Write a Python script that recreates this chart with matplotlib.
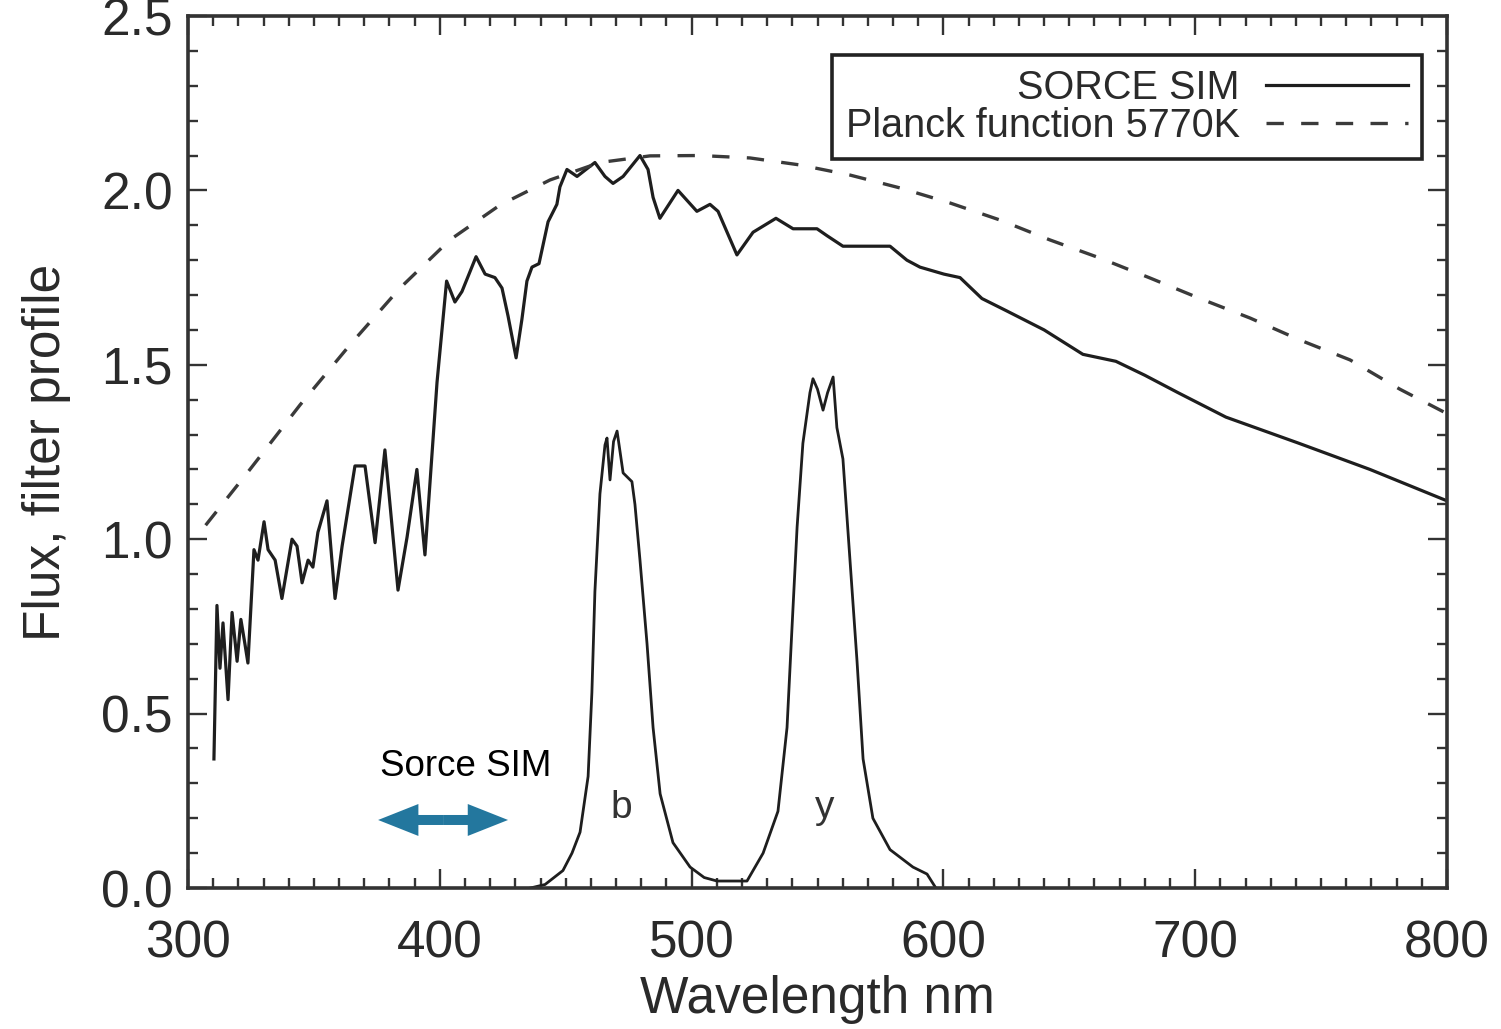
import matplotlib
matplotlib.use('Agg')
import matplotlib.pyplot as plt
from matplotlib.ticker import MultipleLocator

plt.rcParams['font.family'] = ['Liberation Sans', 'DejaVu Sans']

# SORCE SIM solar spectrum
sim_wl = [310.3, 311.5, 312.7, 313.9, 315.9, 317.5, 319.5, 321.0, 322.6, 323.8,
          326.2, 327.8, 330.2, 331.8, 334.6, 337.3, 341.3, 343.3, 345.3, 347.7,
          349.6, 351.6, 355.2, 358.4, 361.2, 366.3, 370.3, 374.3, 378.2, 383.4,
          387.0, 390.9, 394.1, 398.9, 402.7, 406.0, 408.8, 414.4, 418.0, 421.9,
          424.7, 427.1, 430.3, 432.6, 434.6, 436.6, 439.4, 441.8, 443.0, 446.5,
          447.7, 450.5, 454.5, 461.6, 465.6, 468.8, 472.8, 479.5, 482.7, 484.7,
          487.4, 494.6, 502.1, 507.3, 510.5, 514.1, 518.0, 524.4, 533.5, 540.3,
          549.8, 553.8, 560.1, 572.0, 578.8, 585.5, 590.7, 600.2, 606.6, 615.3,
          625.0, 640.0, 655.4, 668.5, 680.0, 693.2, 712.2, 740.8, 769.4, 800.0]
sim_flux = [0.37, 0.81, 0.63, 0.76, 0.54, 0.79, 0.65, 0.77, 0.70, 0.645,
            0.97, 0.94, 1.05, 0.97, 0.94, 0.83, 1.00, 0.98, 0.875, 0.94,
            0.92, 1.02, 1.11, 0.83, 0.98, 1.21, 1.21, 0.99, 1.256, 0.854,
            1.006, 1.20, 0.955, 1.45, 1.74, 1.68, 1.71, 1.81, 1.76, 1.75,
            1.72, 1.64, 1.52, 1.63, 1.74, 1.78, 1.79, 1.87, 1.91, 1.96,
            2.01, 2.06, 2.04, 2.08, 2.04, 2.02, 2.04, 2.10, 2.06, 1.98,
            1.92, 2.00, 1.94, 1.96, 1.94, 1.88, 1.815, 1.88, 1.92, 1.89,
            1.89, 1.87, 1.84, 1.84, 1.84, 1.80, 1.78, 1.76, 1.75, 1.69,
            1.655, 1.60, 1.53, 1.51, 1.47, 1.42, 1.35, 1.276, 1.20, 1.11]

# Planck function 5770K (normalised)
planck_wl = [307.0, 324.6, 344.5, 364.3, 384.2, 404.0, 423.9, 443.8, 463.6, 483.5,
             503.3, 523.2, 543.0, 562.9, 582.8, 602.6, 622.5, 642.3, 662.2, 682.0,
             701.9, 721.8, 741.6, 761.5, 781.3, 800.0]
planck_flux = [1.04, 1.20, 1.385, 1.557, 1.72, 1.858, 1.958, 2.03, 2.08, 2.099,
               2.10, 2.093, 2.073, 2.044, 2.007, 1.964, 1.915, 1.858, 1.806, 1.749,
               1.69, 1.634, 1.571, 1.514, 1.43, 1.36]

# Stromgren b and y filter profiles
filt_wl = [436.0, 441.8, 448.9, 452.5, 455.7, 458.9, 460.4, 461.6, 463.6, 465.6,
           466.4, 467.6, 469.0, 470.4, 471.6, 472.8, 476.3, 477.5, 479.5, 482.3,
           484.7, 487.5, 492.6, 499.4, 505.0, 510.1, 522.0, 528.4, 534.3, 537.9,
           539.9, 541.9, 544.2, 547.0, 548.2, 550.0, 552.2, 554.0, 556.2, 557.7,
           560.1, 562.9, 565.7, 568.1, 572.0, 578.8, 587.9, 593.5, 597.0]
filt_val = [0.0, 0.01, 0.05, 0.10, 0.16, 0.32, 0.56, 0.85, 1.13, 1.27,
            1.29, 1.17, 1.28, 1.31, 1.25, 1.19, 1.165, 1.10, 0.94, 0.70,
            0.46, 0.27, 0.13, 0.06, 0.03, 0.02, 0.02, 0.10, 0.22, 0.46,
            0.75, 1.035, 1.275, 1.42, 1.46, 1.43, 1.37, 1.42, 1.465, 1.32,
            1.23, 0.94, 0.65, 0.37, 0.20, 0.11, 0.06, 0.04, 0.0]

ink = '#1e1e1e'
frame = '#333333'

fig = plt.figure(figsize=(15.01, 10.29), dpi=100)
ax = fig.add_axes([188 / 1501, 1 - 888 / 1029, 1259 / 1501, 872 / 1029])

ax.plot(sim_wl, sim_flux, color=ink, lw=2.3, label='SORCE SIM')
ax.plot(planck_wl, planck_flux, color='#3a3a3a', lw=2.4, dashes=(5.2, 5.2),
        label='Planck function 5770K')
ax.plot(filt_wl, filt_val, color=ink, lw=2.0)

ax.text(472, 0.20, 'b', fontsize=28, color='#333333', ha='center', va='baseline')
ax.text(553, 0.20, 'y', fontsize=28, color='#333333', ha='center', va='baseline')

# SORCE SIM range marker
ax.text(376.3, 0.322, 'Sorce SIM', fontsize=26.5, color='black', ha='left', va='baseline')
arrow_col = '#23779e'
for end in (375.5, 427.1):
    ax.annotate('', xy=(end, 0.195), xytext=(401.3, 0.195),
                arrowprops=dict(arrowstyle='simple,head_length=1.45,head_width=1.15,tail_width=0.36',
                                mutation_scale=20, color=arrow_col, lw=0,
                                shrinkA=0, shrinkB=0))

ax.set_xlim(300, 800)
ax.set_ylim(0, 2.5)
ax.xaxis.set_major_locator(MultipleLocator(100))
ax.xaxis.set_minor_locator(MultipleLocator(10))
ax.yaxis.set_major_locator(MultipleLocator(0.5))
ax.yaxis.set_minor_locator(MultipleLocator(0.1))
ax.yaxis.set_major_formatter(plt.FuncFormatter(lambda v, p: f'{v:.1f}'))

ax.tick_params(which='both', direction='in', top=True, right=True,
               color=frame, width=1.7, labelcolor='#2a2a2a')
ax.tick_params(which='major', length=14, labelsize=37)
ax.tick_params(which='minor', length=7)
ax.tick_params(axis='x', which='major', pad=23)
ax.tick_params(axis='y', which='major', pad=11)
for sp in ax.spines.values():
    sp.set_color(frame)
    sp.set_linewidth(2.6)

ax.set_xlabel('Wavelength nm', fontsize=37, color='#2a2a2a', labelpad=4)
ax.set_ylabel('Flux, filter profile', fontsize=37, color='#2a2a2a', labelpad=22)

leg = ax.legend(loc='upper right', bbox_to_anchor=(1422 / 1501, 1 - 55 / 1029),
                bbox_transform=fig.transFigure, borderaxespad=0, markerfirst=False,
                fontsize=28.5, frameon=True, fancybox=False, framealpha=1,
                edgecolor='#222222', handlelength=3.6, handletextpad=0.65,
                labelspacing=0.0, borderpad=0.35)
leg.get_frame().set_linewidth(2.6)
for t in leg.get_texts():
    t.set_color('#2a2a2a')

fig.savefig('out.png', dpi=100)
